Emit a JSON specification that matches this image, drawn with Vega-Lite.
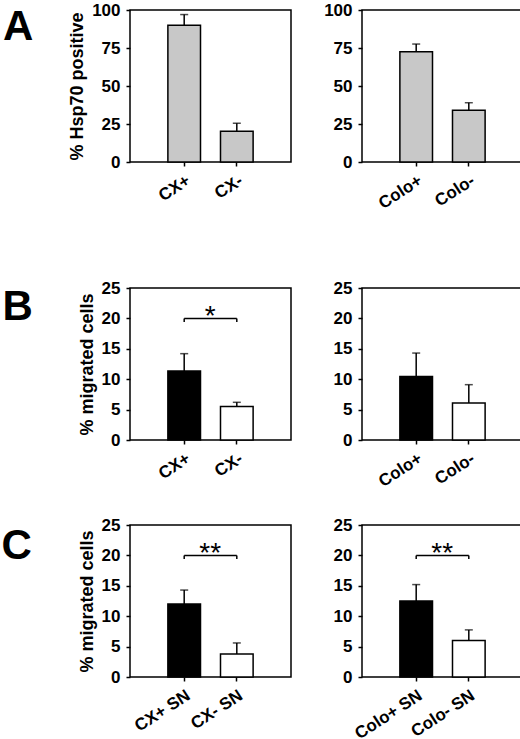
{
  "$schema": "https://vega.github.io/schema/vega-lite/v6.json",
  "padding": {"left": 0, "top": 0, "right": 0, "bottom": 0},
  "datasets": {
    "bars": [
      {"panel": "A1", "group": "CX+", "treatment": "pos", "value": 90, "upper": 97},
      {"panel": "A1", "group": "CX-", "treatment": "neg", "value": 20.3, "upper": 25.5},
      {"panel": "A2", "group": "Colo+", "treatment": "pos", "value": 72.5, "upper": 77.6},
      {"panel": "A2", "group": "Colo-", "treatment": "neg", "value": 34, "upper": 39},
      {"panel": "B1", "group": "CX+", "treatment": "pos", "value": 11.35, "upper": 14.2},
      {"panel": "B1", "group": "CX-", "treatment": "neg", "value": 5.5, "upper": 6.2},
      {"panel": "B2", "group": "Colo+", "treatment": "pos", "value": 10.45, "upper": 14.3},
      {"panel": "B2", "group": "Colo-", "treatment": "neg", "value": 6.1, "upper": 9.1},
      {"panel": "C1", "group": "CX+ SN", "treatment": "pos", "value": 12.0, "upper": 14.3},
      {"panel": "C1", "group": "CX- SN", "treatment": "neg", "value": 3.8, "upper": 5.6},
      {"panel": "C2", "group": "Colo+ SN", "treatment": "pos", "value": 12.5, "upper": 15.2},
      {"panel": "C2", "group": "Colo- SN", "treatment": "neg", "value": 6.0, "upper": 7.75}
    ],
    "brackets": [
      {"panel": "B1", "from": "CX+", "to": "CX-", "y": 20, "y2": 19.4, "label": "*"},
      {"panel": "C1", "from": "CX+ SN", "to": "CX- SN", "y": 20, "y2": 19.4, "label": "**"},
      {"panel": "C2", "from": "Colo+ SN", "to": "Colo- SN", "y": 20, "y2": 19.4, "label": "**"}
    ]
  },
  "columns": 2,
  "spacing": {"row": 24, "column": 30},
  "concat": [
    {
      "width": 161, "height": 152,
      "title": {"text": "A", "orient": "left", "angle": 0, "anchor": "end", "baseline": "top", "dy": 6, "fontSize": 42, "fontWeight": "bold", "color": "black", "offset": 5},
      "data": {"name": "bars"},
      "transform": [{"filter": "datum.panel === 'A1'"}],
      "encoding": {
        "x": {"field": "group", "type": "nominal", "sort": null, "scale": {"domain": ["CX+", "CX-"], "paddingInner": 0.38, "paddingOuter": 0.72}, "axis": {"title": " ", "titlePadding": 23}}
      },
      "layer": [
        {"mark": {"type": "bar", "color": "#c8c8c8", "stroke": "black", "strokeWidth": 1.5},
         "encoding": {"y": {"field": "value", "type": "quantitative", "scale": {"domain": [0, 100], "nice": false}, "axis": {"values": [0, 25, 50, 75, 100], "title": "% Hsp70 positive", "titlePadding": 5}}}},
        {"mark": {"type": "rule", "strokeWidth": 1.5, "color": "black"},
         "encoding": {"y": {"field": "value", "type": "quantitative", "axis": {"values": [0, 25, 50, 75, 100], "title": "% Hsp70 positive", "titlePadding": 5}}, "y2": {"field": "upper"}}},
        {"mark": {"type": "tick", "size": 8, "thickness": 1.5, "color": "black"},
         "encoding": {"y": {"field": "upper", "type": "quantitative", "axis": {"values": [0, 25, 50, 75, 100], "title": "% Hsp70 positive", "titlePadding": 5}}}}
      ]
    },
    {
      "width": 161, "height": 152,
      "data": {"name": "bars"},
      "transform": [{"filter": "datum.panel === 'A2'"}],
      "encoding": {
        "x": {"field": "group", "type": "nominal", "sort": null, "scale": {"domain": ["Colo+", "Colo-"], "paddingInner": 0.38, "paddingOuter": 0.72}, "axis": {"title": " ", "titlePadding": 23}}
      },
      "layer": [
        {"mark": {"type": "bar", "color": "#c8c8c8", "stroke": "black", "strokeWidth": 1.5},
         "encoding": {"y": {"field": "value", "type": "quantitative", "scale": {"domain": [0, 100], "nice": false}, "axis": {"values": [0, 25, 50, 75, 100], "title": null}}}},
        {"mark": {"type": "rule", "strokeWidth": 1.5, "color": "black"},
         "encoding": {"y": {"field": "value", "type": "quantitative", "axis": {"values": [0, 25, 50, 75, 100], "title": null}}, "y2": {"field": "upper"}}},
        {"mark": {"type": "tick", "size": 8, "thickness": 1.5, "color": "black"},
         "encoding": {"y": {"field": "upper", "type": "quantitative", "axis": {"values": [0, 25, 50, 75, 100], "title": null}}}}
      ]
    },
    {
      "width": 161, "height": 152,
      "title": {"text": "B", "orient": "left", "angle": 0, "anchor": "end", "baseline": "top", "dy": 8, "fontSize": 42, "fontWeight": "bold", "color": "black", "offset": 15},
      "data": {"name": "bars"},
      "transform": [{"filter": "datum.panel === 'B1'"}],
      "encoding": {
        "x": {"field": "group", "type": "nominal", "sort": null, "scale": {"domain": ["CX+", "CX-"], "paddingInner": 0.38, "paddingOuter": 0.72}, "axis": {"title": null}}
      },
      "layer": [
        {"mark": {"type": "bar", "stroke": "black", "strokeWidth": 1.5},
         "encoding": {
           "y": {"field": "value", "type": "quantitative", "scale": {"domain": [0, 25], "nice": false}, "axis": {"values": [0, 5, 10, 15, 20, 25], "title": "% migrated cells", "titlePadding": 5}},
           "color": {"field": "treatment", "type": "nominal", "scale": {"domain": ["pos", "neg"], "range": ["black", "white"]}, "legend": null}}},
        {"mark": {"type": "rule", "strokeWidth": 1.5, "color": "black"},
         "encoding": {"y": {"field": "value", "type": "quantitative", "axis": {"values": [0, 5, 10, 15, 20, 25], "title": "% migrated cells", "titlePadding": 5}}, "y2": {"field": "upper"}}},
        {"mark": {"type": "tick", "size": 8, "thickness": 1.5, "color": "black"},
         "encoding": {"y": {"field": "upper", "type": "quantitative", "axis": {"values": [0, 5, 10, 15, 20, 25], "title": "% migrated cells", "titlePadding": 5}}}},
        {"data": {"name": "brackets"}, "transform": [{"filter": "datum.panel === 'B1'"}],
         "mark": {"type": "rule", "strokeWidth": 1.5, "color": "black"},
         "encoding": {"x": {"field": "from", "type": "nominal"}, "x2": {"field": "to"}, "y": {"field": "y", "type": "quantitative", "axis": {"values": [0, 5, 10, 15, 20, 25], "title": "% migrated cells", "titlePadding": 5}}}},
        {"data": {"name": "brackets"}, "transform": [{"filter": "datum.panel === 'B1'"}, {"fold": ["from", "to"], "as": ["end", "grp"]}],
         "mark": {"type": "rule", "strokeWidth": 1.5, "color": "black"},
         "encoding": {"x": {"field": "grp", "type": "nominal"}, "y": {"field": "y", "type": "quantitative", "axis": {"values": [0, 5, 10, 15, 20, 25], "title": "% migrated cells", "titlePadding": 5}}, "y2": {"field": "y2"}}},
        {"data": {"name": "brackets"}, "transform": [{"filter": "datum.panel === 'B1'"}],
         "mark": {"type": "text", "fontSize": 28, "dx": 26, "dy": 7, "baseline": "alphabetic", "align": "center", "color": "black"},
         "encoding": {"x": {"field": "from", "type": "nominal"}, "y": {"field": "y", "type": "quantitative", "axis": {"values": [0, 5, 10, 15, 20, 25], "title": "% migrated cells", "titlePadding": 5}}, "text": {"field": "label"}}}
      ]
    },
    {
      "width": 161, "height": 152,
      "data": {"name": "bars"},
      "transform": [{"filter": "datum.panel === 'B2'"}],
      "encoding": {
        "x": {"field": "group", "type": "nominal", "sort": null, "scale": {"domain": ["Colo+", "Colo-"], "paddingInner": 0.38, "paddingOuter": 0.72}, "axis": {"title": null}}
      },
      "layer": [
        {"mark": {"type": "bar", "stroke": "black", "strokeWidth": 1.5},
         "encoding": {
           "y": {"field": "value", "type": "quantitative", "scale": {"domain": [0, 25], "nice": false}, "axis": {"values": [0, 5, 10, 15, 20, 25], "title": null}},
           "color": {"field": "treatment", "type": "nominal", "scale": {"domain": ["pos", "neg"], "range": ["black", "white"]}, "legend": null}}},
        {"mark": {"type": "rule", "strokeWidth": 1.5, "color": "black"},
         "encoding": {"y": {"field": "value", "type": "quantitative", "axis": {"values": [0, 5, 10, 15, 20, 25], "title": null}}, "y2": {"field": "upper"}}},
        {"mark": {"type": "tick", "size": 8, "thickness": 1.5, "color": "black"},
         "encoding": {"y": {"field": "upper", "type": "quantitative", "axis": {"values": [0, 5, 10, 15, 20, 25], "title": null}}}}
      ]
    },
    {
      "width": 161, "height": 152,
      "title": {"text": "C", "orient": "left", "angle": 0, "anchor": "end", "baseline": "top", "dy": 10, "fontSize": 42, "fontWeight": "bold", "color": "black", "offset": 16},
      "data": {"name": "bars"},
      "transform": [{"filter": "datum.panel === 'C1'"}],
      "encoding": {
        "x": {"field": "group", "type": "nominal", "sort": null, "scale": {"domain": ["CX+ SN", "CX- SN"], "paddingInner": 0.38, "paddingOuter": 0.72}, "axis": {"title": null}}
      },
      "layer": [
        {"mark": {"type": "bar", "stroke": "black", "strokeWidth": 1.5},
         "encoding": {
           "y": {"field": "value", "type": "quantitative", "scale": {"domain": [0, 25], "nice": false}, "axis": {"values": [0, 5, 10, 15, 20, 25], "title": "% migrated cells", "titlePadding": 5}},
           "color": {"field": "treatment", "type": "nominal", "scale": {"domain": ["pos", "neg"], "range": ["black", "white"]}, "legend": null}}},
        {"mark": {"type": "rule", "strokeWidth": 1.5, "color": "black"},
         "encoding": {"y": {"field": "value", "type": "quantitative", "axis": {"values": [0, 5, 10, 15, 20, 25], "title": "% migrated cells", "titlePadding": 5}}, "y2": {"field": "upper"}}},
        {"mark": {"type": "tick", "size": 8, "thickness": 1.5, "color": "black"},
         "encoding": {"y": {"field": "upper", "type": "quantitative", "axis": {"values": [0, 5, 10, 15, 20, 25], "title": "% migrated cells", "titlePadding": 5}}}},
        {"data": {"name": "brackets"}, "transform": [{"filter": "datum.panel === 'C1'"}],
         "mark": {"type": "rule", "strokeWidth": 1.5, "color": "black"},
         "encoding": {"x": {"field": "from", "type": "nominal"}, "x2": {"field": "to"}, "y": {"field": "y", "type": "quantitative", "axis": {"values": [0, 5, 10, 15, 20, 25], "title": "% migrated cells", "titlePadding": 5}}}},
        {"data": {"name": "brackets"}, "transform": [{"filter": "datum.panel === 'C1'"}, {"fold": ["from", "to"], "as": ["end", "grp"]}],
         "mark": {"type": "rule", "strokeWidth": 1.5, "color": "black"},
         "encoding": {"x": {"field": "grp", "type": "nominal"}, "y": {"field": "y", "type": "quantitative", "axis": {"values": [0, 5, 10, 15, 20, 25], "title": "% migrated cells", "titlePadding": 5}}, "y2": {"field": "y2"}}},
        {"data": {"name": "brackets"}, "transform": [{"filter": "datum.panel === 'C1'"}],
         "mark": {"type": "text", "fontSize": 28, "dx": 26, "dy": 7, "baseline": "alphabetic", "align": "center", "color": "black"},
         "encoding": {"x": {"field": "from", "type": "nominal"}, "y": {"field": "y", "type": "quantitative", "axis": {"values": [0, 5, 10, 15, 20, 25], "title": "% migrated cells", "titlePadding": 5}}, "text": {"field": "label"}}}
      ]
    },
    {
      "width": 161, "height": 152,
      "data": {"name": "bars"},
      "transform": [{"filter": "datum.panel === 'C2'"}],
      "encoding": {
        "x": {"field": "group", "type": "nominal", "sort": null, "scale": {"domain": ["Colo+ SN", "Colo- SN"], "paddingInner": 0.38, "paddingOuter": 0.72}, "axis": {"title": null}}
      },
      "layer": [
        {"mark": {"type": "bar", "stroke": "black", "strokeWidth": 1.5},
         "encoding": {
           "y": {"field": "value", "type": "quantitative", "scale": {"domain": [0, 25], "nice": false}, "axis": {"values": [0, 5, 10, 15, 20, 25], "title": null}},
           "color": {"field": "treatment", "type": "nominal", "scale": {"domain": ["pos", "neg"], "range": ["black", "white"]}, "legend": null}}},
        {"mark": {"type": "rule", "strokeWidth": 1.5, "color": "black"},
         "encoding": {"y": {"field": "value", "type": "quantitative", "axis": {"values": [0, 5, 10, 15, 20, 25], "title": null}}, "y2": {"field": "upper"}}},
        {"mark": {"type": "tick", "size": 8, "thickness": 1.5, "color": "black"},
         "encoding": {"y": {"field": "upper", "type": "quantitative", "axis": {"values": [0, 5, 10, 15, 20, 25], "title": null}}}},
        {"data": {"name": "brackets"}, "transform": [{"filter": "datum.panel === 'C2'"}],
         "mark": {"type": "rule", "strokeWidth": 1.5, "color": "black"},
         "encoding": {"x": {"field": "from", "type": "nominal"}, "x2": {"field": "to"}, "y": {"field": "y", "type": "quantitative", "axis": {"values": [0, 5, 10, 15, 20, 25], "title": null}}}},
        {"data": {"name": "brackets"}, "transform": [{"filter": "datum.panel === 'C2'"}, {"fold": ["from", "to"], "as": ["end", "grp"]}],
         "mark": {"type": "rule", "strokeWidth": 1.5, "color": "black"},
         "encoding": {"x": {"field": "grp", "type": "nominal"}, "y": {"field": "y", "type": "quantitative", "axis": {"values": [0, 5, 10, 15, 20, 25], "title": null}}, "y2": {"field": "y2"}}},
        {"data": {"name": "brackets"}, "transform": [{"filter": "datum.panel === 'C2'"}],
         "mark": {"type": "text", "fontSize": 28, "dx": 26, "dy": 7, "baseline": "alphabetic", "align": "center", "color": "black"},
         "encoding": {"x": {"field": "from", "type": "nominal"}, "y": {"field": "y", "type": "quantitative", "axis": {"values": [0, 5, 10, 15, 20, 25], "title": null}}, "text": {"field": "label"}}}
      ]
    }
  ],
  "config": {
    "font": "Liberation Sans",
    "view": {"stroke": "black", "strokeWidth": 1.5},
    "axis": {
      "domain": false, "grid": false,
      "tickColor": "black", "tickSize": 4, "tickWidth": 1.5,
      "labelFontSize": 17, "labelFontWeight": "bold", "labelColor": "black", "labelPadding": 6,
      "titleFontSize": 18, "titleFontWeight": "bold", "titleColor": "black"
    },
    "axisX": {"labelAngle": -33, "labelAlign": "right", "labelBaseline": "top"}
  }
}
